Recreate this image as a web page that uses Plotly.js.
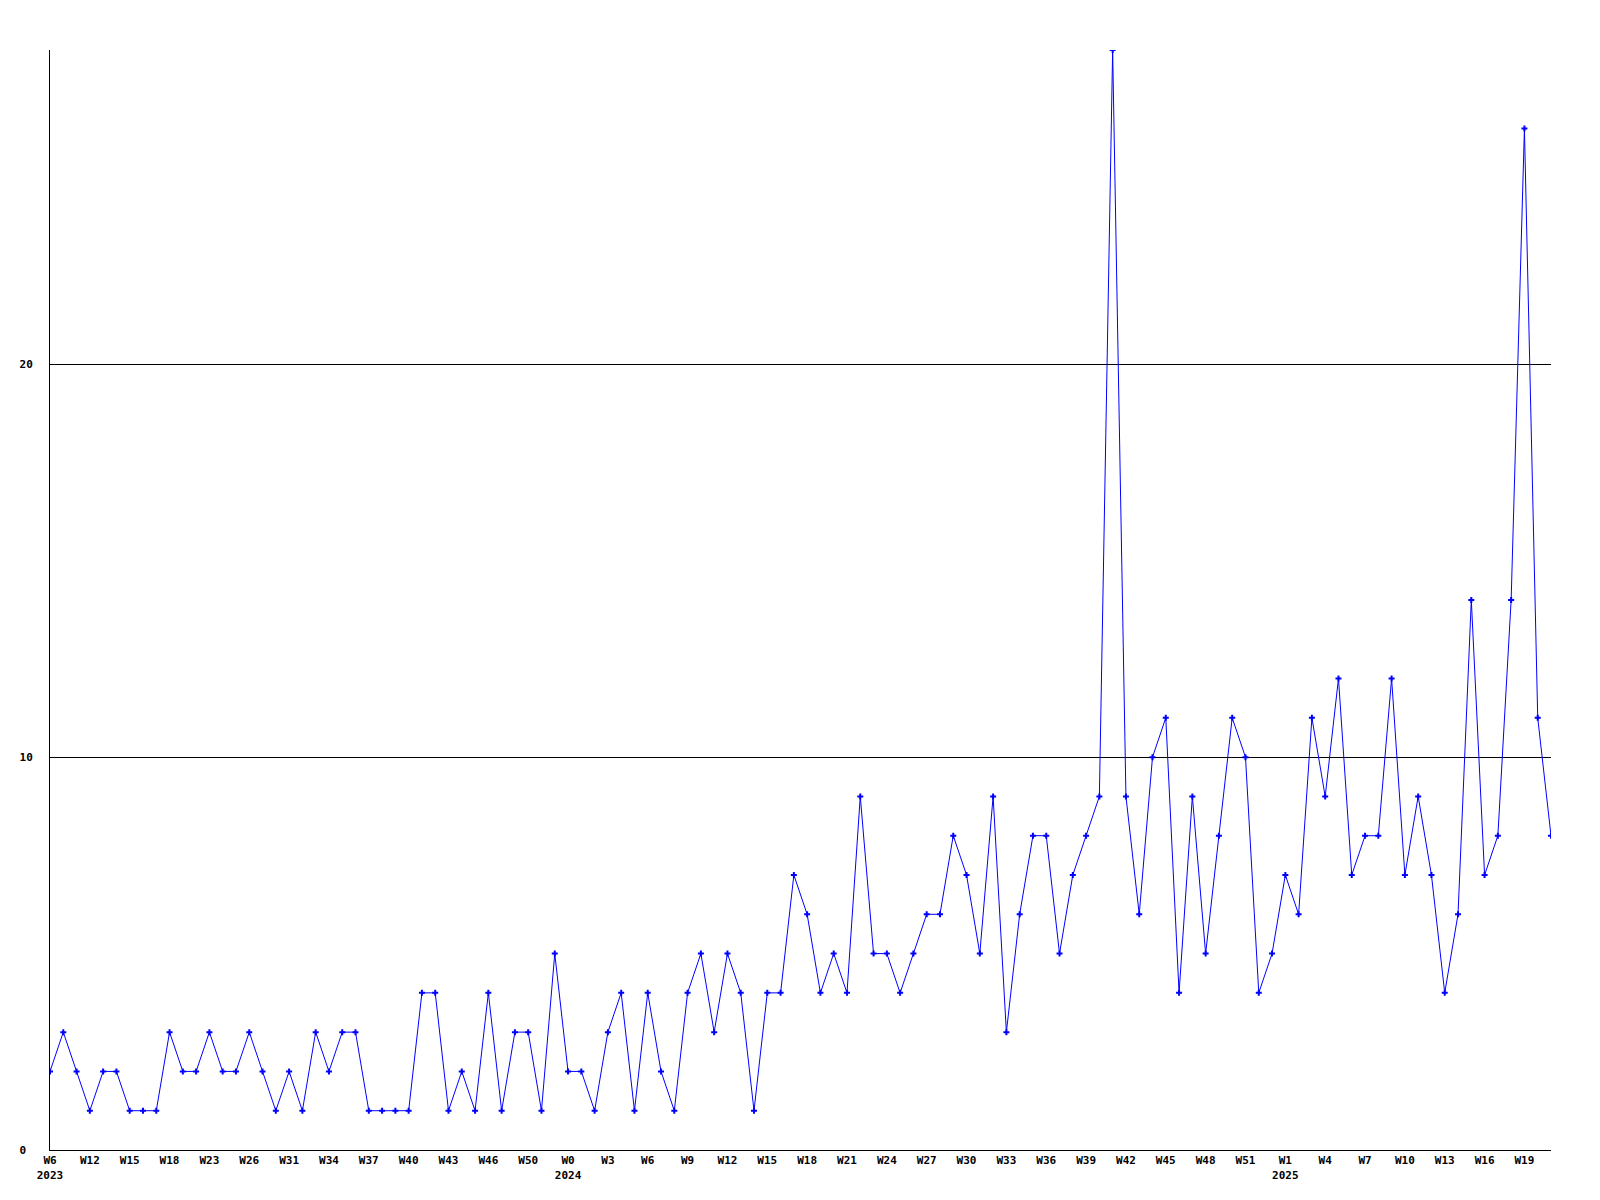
<!DOCTYPE html>
<html>
<head>
<meta charset="utf-8">
<script src="https://cdn.plot.ly/plotly-3.0.1.min.js"></script>
<style>html,body{margin:0;padding:0;background:#fff;}#chart{width:1600px;height:1200px;}</style>
</head>
<body>
<div id="chart"></div>
<script>
// Weekly counts, 2023 W6 .. 2025 W20 (114 points)
var values = [
  2,3,2,1,2,2,1,1,1,3,
  2,2,3,2,2,3,2,1,2,1,
  3,2,3,3,1,1,1,1,4,4,
  1,2,1,4,1,3,3,1,5,2,
  2,1,3,4,1,4,2,1,4,5,
  3,5,4,1,4,4,7,6,4,5,
  4,9,5,5,4,5,6,6,8,7,
  5,9,3,6,8,8,5,7,8,9,
  28,9,6,10,11,4,9,5,8,11,
  10,4,5,7,6,11,9,12,7,8,
  8,12,7,9,7,4,6,14,7,8,
  14,26,11,8
];
// Tick labels, one every 3 points
var tickLabels = ["W6","W12","W15","W18","W23","W26","W31","W34","W37","W40",
  "W43","W46","W50","W0","W3","W6","W9","W12","W15","W18",
  "W21","W24","W27","W30","W33","W36","W39","W42","W45","W48",
  "W51","W1","W4","W7","W10","W13","W16","W19"];
// Year shown under certain tick labels (by label index)
var yearLabels = {0:"2023", 13:"2024", 31:"2025"};
var yTickVals = [0,10,20];
var yTickText = ["0\u00a0","10","20"];

var xs = values.map(function(_, i){ return i; });
var tickvals = tickLabels.map(function(_, i){ return i*3; });
var ticktext = tickLabels.map(function(t, i){
  return yearLabels[i] ? t + "<br>" + yearLabels[i] : t;
});

var font = {family: "DejaVu Sans Mono, monospace", size: 11, color: "#000", weight: "bold"};

var trace = {
  x: xs, y: values, type: "scatter", mode: "lines+markers",
  line: {color: "#0000ff", width: 1},
  marker: {color: "#0000ff", symbol: "cross", size: 5},
  hoverinfo: "skip"
};

var layout = {
  width: 1600, height: 1200,
  margin: {l: 50, r: 49, t: 50, b: 50, pad: 0},
  paper_bgcolor: "#fff", plot_bgcolor: "#fff",
  showlegend: false,
  font: font,
  xaxis: {
    range: [0, values.length - 1],
    tickmode: "array", tickvals: tickvals, ticktext: ticktext,
    showgrid: false, zeroline: false,
    showline: true, linecolor: "#000", linewidth: 1,
    ticks: "", tickfont: font, tickangle: 0
  },
  yaxis: {
    range: [0, 28],
    tickmode: "array", tickvals: yTickVals, ticktext: yTickText,
    showgrid: true, gridcolor: "#000", gridwidth: 1,
    zeroline: false,
    showline: true, linecolor: "#000", linewidth: 1,
    ticks: "", tickfont: font, ticklabelstandoff: 14
  }
};

Plotly.newPlot("chart", [trace], layout, {staticPlot: true, displayModeBar: false});
</script>
</body>
</html>
